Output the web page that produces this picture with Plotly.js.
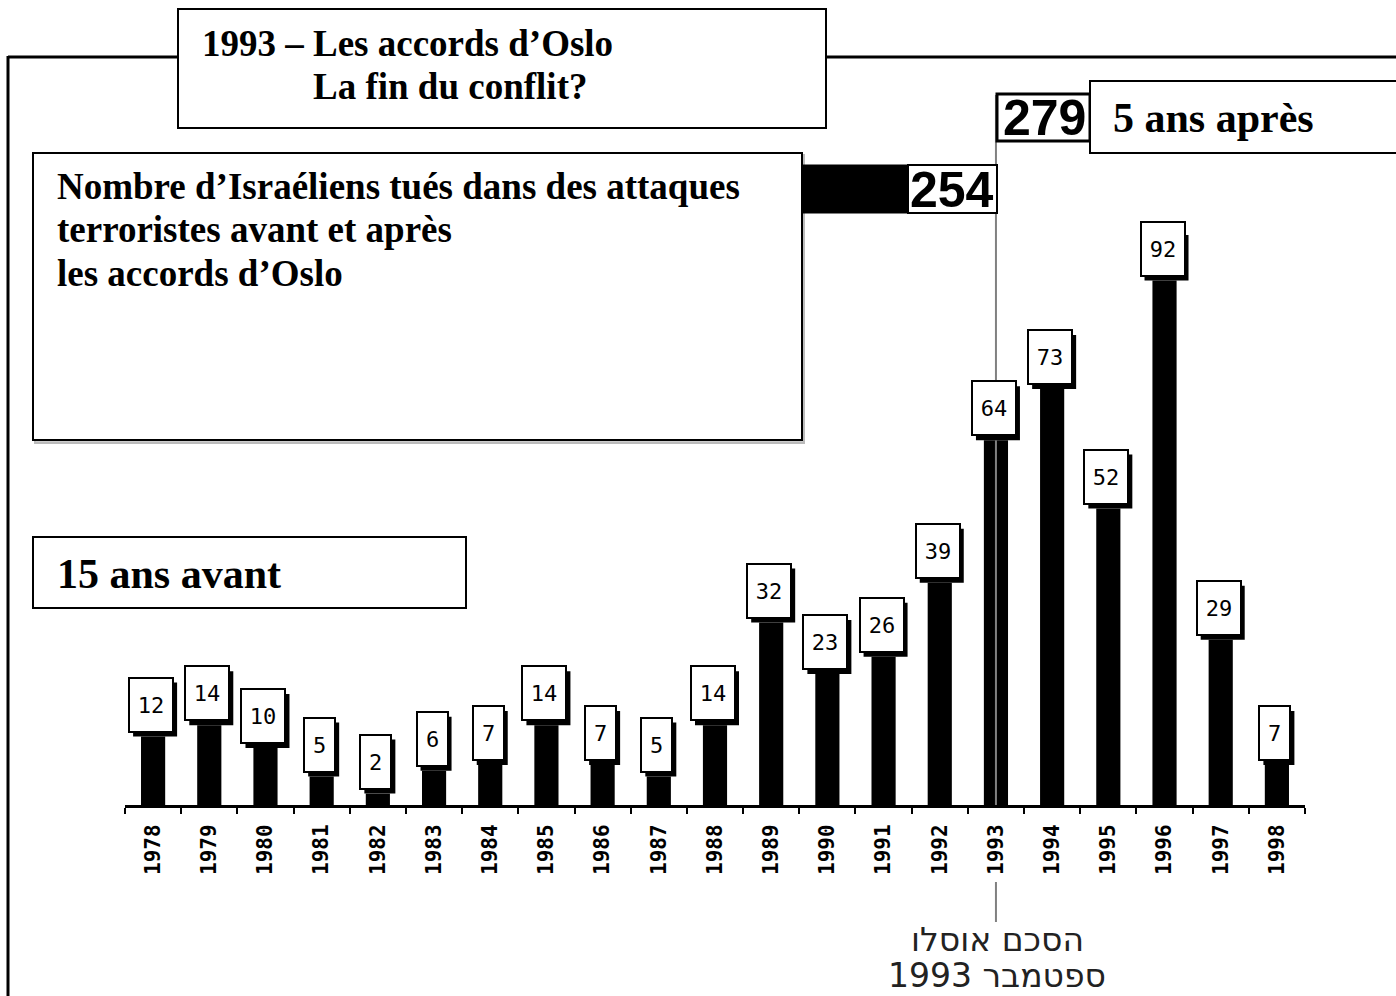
<!DOCTYPE html>
<html>
<head>
<meta charset="utf-8">
<script src="https://cdn.plot.ly/plotly-3.0.1.min.js"></script>
<style>html,body{margin:0;padding:0;background:#fff;}#chart{width:1396px;height:996px;}</style>
</head>
<body>
<div id="chart"></div>
<script>
const years = ["1978","1979","1980","1981","1982","1983","1984","1985","1986","1987","1988","1989","1990","1991","1992","1993","1994","1995","1996","1997","1998"];
const killed = [12,14,10,5,2,6,7,14,7,5,14,32,23,26,39,64,73,52,92,29,7];
const totalBefore = "254";
const totalAfter = "279";
const titleLines = ["1993 – Les accords d’Oslo", "La fin du conflit?"];
const subtitleLines = ["Nombre d’Israéliens tués dans des attaques", "terroristes avant et après", "les accords d’Oslo"];
const labelBefore = "15 ans avant";
const labelAfter = "5 ans après";
const hebrewLines = ["הסכם אוסלו", "1993 ספטמבר"];
const osloYear = "1993";

const W = 1396, H = 996;
const M = {l:125, r:91, t:235, b:191};
const PW = W - M.l - M.r, PH = H - M.t - M.b;
const px = X => (X - M.l) / PW;
const py = Y => (H - M.b - Y) / PH;

const serif = "Liberation Serif, Times New Roman, serif";
const shapes = [];
const annotations = [];

function rect(x0,y0,x1,y1,opts){
  shapes.push(Object.assign({type:'rect', xref:'paper', yref:'paper', x0:px(x0), x1:px(x1), y0:py(y1), y1:py(y0),
    line:{color:'black', width:2}, fillcolor:'white', layer:'above'}, opts||{}));
}
function line(x0,y0,x1,y1,w,c){
  shapes.push({type:'line', xref:'paper', yref:'paper', x0:px(x0), x1:px(x1), y0:py(y0), y1:py(y1), line:{color:c||'black', width:w||3}, layer:'above'});
}
function text(t,x,y,size,opts){
  annotations.push(Object.assign({xref:'paper', yref:'paper', x:px(x), y:py(y), xanchor:'left', yanchor:'middle',
    text:t, showarrow:false, font:{family:serif, size:size, color:'black', weight:'bold'}}, opts||{}));
}

// outer frame
line(8,57,178,57,3);
line(826,57,1396,57,3);
line(8,56,8,996,3);

// vertical Oslo line
const oi = years.indexOf(osloYear);
shapes.push({type:'line', xref:'x', yref:'paper', x0:oi, x1:oi, y0:py(805), y1:py(95), line:{color:'#808080', width:2}, layer:'above'});
shapes.push({type:'line', xref:'x', yref:'paper', x0:oi, x1:oi, y0:py(922), y1:py(882), line:{color:'#808080', width:2}, layer:'above'});

// title box
rect(178,9,826,128);
text(titleLines[0],200,43,37);
text(titleLines[1],311,86,37);

// subtitle box with shadow
rect(35,155,804,443,{line:{color:'#bbbbbb', width:2}, fillcolor:'#cccccc'});
rect(33,153,802,440);
subtitleLines.forEach((t,i)=>text(t,55,187+i*43,37));

// 254 bar
rect(802,165,908,213,{fillcolor:'black', line:{color:'black', width:1}});
rect(908,165,997,213,{line:{color:'black', width:2}});
text(totalBefore,952,190,50,{xanchor:'center', font:{family:'Liberation Sans, Arial, sans-serif', size:50, color:'black', weight:'bold'}});

// 279 and 5 ans apres
rect(997,94,1090,141,{line:{color:'black', width:3}});
text(totalAfter,1044,118,50,{xanchor:'center', font:{family:'Liberation Sans, Arial, sans-serif', size:50, color:'black', weight:'bold'}});
rect(1090,81,1400,153);
text(labelAfter,1111,118,42);

// 15 ans avant
rect(33,537,466,608);
text(labelBefore,55,574,42);

// Hebrew
hebrewLines.forEach((t,i)=>annotations.push({xref:'paper', yref:'paper', x:px(997), y:py(939+i*36), xanchor:'center', yanchor:'middle', text:t, showarrow:false,
  font:{family:'DejaVu Sans, sans-serif', size:33, color:'#222'}}));

// value boxes on bars
years.forEach((yr,i)=>{
  const v = killed[i];
  const two = String(v).length > 1;
  const ow = two ? 44 : 31, oh = 54;
  shapes.push({type:'rect', xref:'x', yref:'y', xsizemode:'pixel', ysizemode:'pixel', xanchor:i, yanchor:v,
    x0:-ow/2+2, x1:ow/2+2, y0:0, y1:oh, fillcolor:'black', line:{width:0}, layer:'above'});
  annotations.push({x:i, y:v, xref:'x', yref:'y', xanchor:'center', yanchor:'bottom', showarrow:false,
    width:ow-2, height:oh-2, borderpad:0, borderwidth:2, valign:'middle', align:'center',
    text:String(v), xshift:-2, yshift:4, bgcolor:'white', bordercolor:'black',
    font:{family:'DejaVu Sans Mono, monospace', size:22, color:'black'}});
});

const trace = {type:'bar', x:years, y:killed, marker:{color:'black', line:{width:0}}, width:0.43, hoverinfo:'skip'};

const layout = {
  width:W, height:H, margin:M, paper_bgcolor:'white', plot_bgcolor:'white', showlegend:false,
  xaxis:{type:'category', range:[-0.5,20.5], showline:true, linecolor:'black', linewidth:3, ticks:'outside', tickson:'boundaries',
    ticklen:6, tickwidth:2, tickcolor:'black', tickangle:-90, showgrid:false, zeroline:false, ticklabelstandoff:8,
    tickfont:{family:'DejaVu Sans Mono, monospace', size:21, color:'black', weight:'bold'}},
  yaxis:{range:[0,100], visible:false, showgrid:false, zeroline:false},
  shapes:shapes, annotations:annotations
};
Plotly.newPlot('chart',[trace],layout,{displayModeBar:false, staticPlot:true});
</script>
</body>
</html>
